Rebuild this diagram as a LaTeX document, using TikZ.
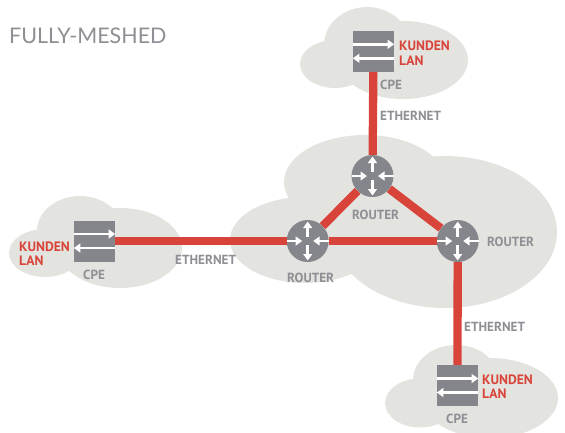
\documentclass[tikz,border=0pt]{standalone}
\usepackage{fontspec}
\setmainfont{PT Sans}
\newfontfamily\titlefont{Lato}
\usetikzlibrary{arrows.meta,calc}
\definecolor{cloudc}{HTML}{E3E3DF}
\definecolor{redc}{HTML}{D9443A}
\definecolor{grayc}{HTML}{85868C}
\definecolor{txtc}{HTML}{8E8F94}
\tikzset{
 cloudpart/.style={fill=cloudc,draw=none},
 link/.style={draw=redc,line width=8.3pt},
 routerbox/.style={circle,fill=grayc,minimum size=42pt,inner sep=0pt},
 cpebox/.style={rectangle,fill=grayc,minimum size=41pt,inner sep=0pt},
 whitearrow/.style={draw=white,line width=2.6pt,-{Triangle[length=6.5pt,width=8.8pt]}},
 lab/.style={text=txtc,font=\bfseries\fontsize{13.2}{15}\selectfont,inner sep=0pt,align=left},
 redlab/.style={text=redc,font=\bfseries\fontsize{13.6}{14.5}\selectfont,inner sep=0pt,align=left},
}
\newcommand{\cpearrows}[1]{%
 \draw[whitearrow] ($(#1.west)+(0,-7)$) -- ($(#1.east)+(0,-7)$);
 \draw[whitearrow] ($(#1.east)+(0,7)$) -- ($(#1.west)+(0,7)$);
}
\begin{document}
\begin{tikzpicture}[x=1pt,y=-1pt]
\useasboundingbox (0,0) rectangle (565,432);
% main cloud
\fill[cloudpart] (365,182) ellipse (81 and 47);
\fill[cloudpart] (305,240) ellipse (75 and 43);
\fill[cloudpart] (445,232) ellipse (112 and 76);
% top cloud
\fill[cloudpart] (367,45) ellipse (43 and 38);
\fill[cloudpart] (335,64) ellipse (35 and 24);
\fill[cloudpart] (403,60) ellipse (65 and 39);
% left cloud
\fill[cloudpart] (80,231) ellipse (43 and 35);
\fill[cloudpart] (45,253) ellipse (36 and 24);
\fill[cloudpart] (120,248) ellipse (62 and 40);
% bottom cloud
\fill[cloudpart] (456,380) ellipse (43 and 35);
\fill[cloudpart] (420,403) ellipse (35 and 24.5);
\fill[cloudpart] (490,398) ellipse (68 and 40);
% nodes
\node[routerbox] (n1) at (372.5,176) {};
\node[routerbox] (n2) at (307.7,241) {};
\node[routerbox] (n3) at (457.7,241) {};
\node[cpebox] (b1) at (373.5,51.3) {};
\node[cpebox] (b2) at (94.5,241) {};
\node[cpebox] (b3) at (457.5,385.5) {};
% links between the nodes
\path[link] (n1) -- (n2);
\path[link] (n1) -- (n3);
\path[link] (n2) -- (n3);
\path[link] (b1) -- (n1);
\path[link] (b2) -- (n2);
\path[link] (n3) -- (b3);
% arrows
\foreach \n in {n1,n2,n3}{
 \draw[whitearrow] ($(\n.center)+(0,-4)$) -- ++(0,-15.5);
 \draw[whitearrow] ($(\n.center)+(0,4)$) -- ++(0,15.5);
 \draw[whitearrow] ($(\n.center)+(-21,0)$) -- ++(15.5,0);
 \draw[whitearrow] ($(\n.center)+(21,0)$) -- ++(-15.5,0);
}
\foreach \n in {b1,b2,b3}{\cpearrows{\n}}
% text
\node[anchor=west,inner sep=0pt,text=txtc,font=\titlefont\fontsize{21.5}{24}\selectfont] (title) at (9,36) {FULLY-MESHED};
\node[redlab,anchor=north west] (k1) at (399,41) {KUNDEN\\LAN};
\node[redlab,anchor=north west] (k2) at (19,241.5) {KUNDEN\\LAN};
\node[redlab,anchor=north west] (k3) at (482,374.5) {KUNDEN\\LAN};
\node[lab,anchor=west] (l1) at (380,84.5) {CPE};
\node[lab,anchor=west] (l2) at (83,274.5) {CPE};
\node[lab,anchor=west] (l3) at (446,418.5) {CPE};
\node[lab,anchor=west] (e1) at (380,115.5) {ETHERNET};
\node[lab,anchor=west] (e2) at (175,259.5) {ETHERNET};
\node[lab,anchor=west] (e3) at (464,326.5) {ETHERNET};
\node[lab,anchor=west] (t1) at (352,214.5) {ROUTER};
\node[lab,anchor=west] (t2) at (287,277.5) {ROUTER};
\node[lab,anchor=west] (t3) at (487,241.5) {ROUTER};
\end{tikzpicture}
\end{document}
